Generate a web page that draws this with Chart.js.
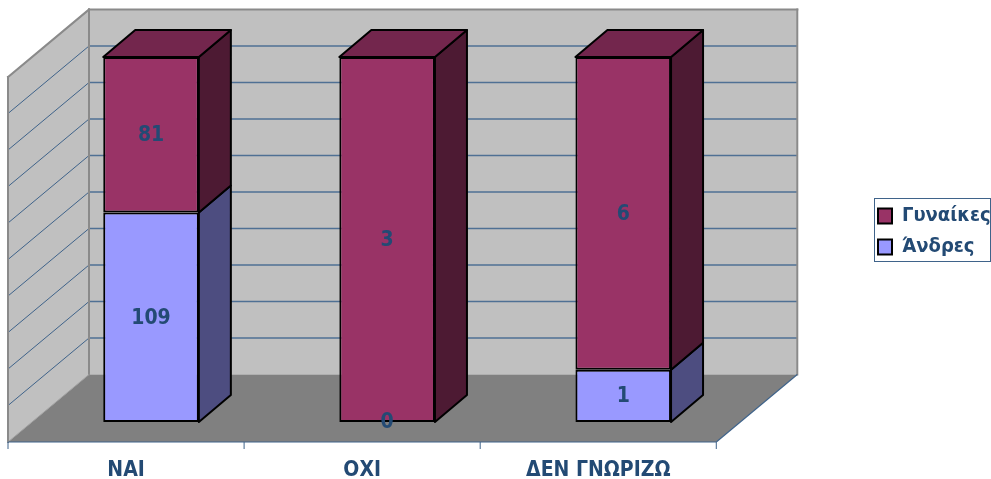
<!DOCTYPE html>
<html>
<head>
<meta charset="utf-8">
<style>
  html, body { margin: 0; padding: 0; background: #fff; }
  #wrap { position: relative; width: 991px; height: 479px; }
</style>
<script src="https://cdn.jsdelivr.net/npm/chart.js@4"></script>
</head>
<body>
<div id="wrap"><canvas id="answersChart" width="991" height="479"></canvas></div>
<script>
const categories = ['ΝΑΙ', 'ΟΧΙ', 'ΔΕΝ ΓΝΩΡΙΖΩ'];
const men = [109, 0, 1];
const women = [81, 3, 6];
const gridTicks = [0, 10, 20, 30, 40, 50, 60, 70, 80, 90, 100];

const counts = [men, women];
const textColor = '#234a74';
const fontFamily = '"DejaVu Sans Condensed", "Noto Sans", Tahoma, sans-serif';

// each stack is shown as a share of its category total
function toPercent(list) {
  return list.map((v, i) => v / (men[i] + women[i]) * 100);
}

// offsets from the plane of the bars to the back wall and the front of the floor
const back = { x: 56, y: -47.5 };
const front = { x: -25, y: 20 };
const barDepth = { x: 32, y: -27 };

function poly(ctx, pts, fill, stroke, width) {
  ctx.beginPath();
  pts.forEach((p, i) => i ? ctx.lineTo(p[0], p[1]) : ctx.moveTo(p[0], p[1]));
  ctx.closePath();
  if (fill) { ctx.fillStyle = fill; ctx.fill(); }
  if (stroke) { ctx.strokeStyle = stroke; ctx.lineWidth = width; ctx.lineJoin = 'round'; ctx.stroke(); }
}

function line(ctx, x1, y1, x2, y2, color, width) {
  ctx.beginPath();
  ctx.moveTo(x1, y1);
  ctx.lineTo(x2, y2);
  ctx.strokeStyle = color;
  ctx.lineWidth = width;
  ctx.stroke();
}

const room3d = {
  id: 'room3d',
  afterLayout(chart) {
    // legend sits on its own, away from the plot
    const l = chart.legend;
    l.left = 867; l.right = 991; l.top = 195; l.bottom = 479;
  },
  beforeDatasetsDraw(chart) {
    const ctx = chart.ctx;
    const a = chart.chartArea;
    const y = chart.scales.y;
    const x = chart.scales.x;
    const bx = a.left + back.x, bxr = a.right + back.x;
    const fx = a.left + front.x, fxr = a.right + front.x;
    const top = a.top, bot = a.bottom;
    ctx.save();

    // back wall, side wall, floor
    poly(ctx, [[bx, top + back.y], [bxr, top + back.y], [bxr, bot + back.y], [bx, bot + back.y]], '#c0c0c0');
    poly(ctx, [[fx, top + front.y], [bx, top + back.y], [bx, bot + back.y], [fx, bot + front.y]], '#c0c0c0');
    poly(ctx, [[fx, bot + front.y], [bx, bot + back.y], [bxr, bot + back.y], [fxr, bot + front.y]], '#808080');

    // gridlines run along the back wall and down the side wall
    gridTicks.slice(1, -1).forEach(v => {
      const py = y.getPixelForValue(v);
      line(ctx, bx, py + back.y, bxr, py + back.y, '#4f7094', 1.5);
      line(ctx, fx, py + front.y, bx, py + back.y, '#3f638a', 1);
    });

    // wall edges
    ctx.lineCap = 'square';
    line(ctx, fx, bot + front.y, fx, top + front.y, '#8a8a8a', 2);
    line(ctx, fx, top + front.y, bx, top + back.y, '#8a8a8a', 2);
    line(ctx, bx, top + back.y, bxr, top + back.y, '#8a8a8a', 2);
    line(ctx, bxr, top + back.y, bxr, bot + back.y, '#8a8a8a', 2);
    line(ctx, bx, top + back.y, bx, bot + back.y, '#8a8a8a', 2);
    line(ctx, fx, bot + front.y, bx, bot + back.y, '#a0a0a0', 1);
    ctx.lineCap = 'butt';

    // category axis along the front of the floor
    const axisCol = '#3f638a';
    line(ctx, fx, bot + front.y, fxr, bot + front.y, axisCol, 1.2);
    line(ctx, fxr, bot + front.y, bxr, bot + back.y, axisCol, 1.2);
    const band = (x.getPixelForValue(1) - x.getPixelForValue(0));
    for (let i = 0; i <= categories.length; i++) {
      const tx = fx + band * i;
      line(ctx, tx, bot + front.y, tx, bot + front.y + 7, axisCol, 1);
    }

    // top and right faces of each bar
    const sideColors = [['#4d4d80', null], ['#4d1a33', '#73264d']];
    chart.data.datasets.forEach((ds, d) => {
      chart.getDatasetMeta(d).data.forEach((bar, i) => {
        if (!counts[d][i]) return;
        const r = bar.x + bar.width / 2, l = bar.x - bar.width / 2;
        const t = bar.y, b = bar.base;
        const dx = barDepth.x, dy = barDepth.y;
        poly(ctx, [[r, t], [r + dx, t + dy], [r + dx, b + dy], [r, b]], sideColors[d][0], '#000', 2);
        if (d === 1) poly(ctx, [[l, t], [l + dx, t + dy], [r + dx, t + dy], [r, t]], sideColors[d][1], '#000', 2);
      });
    });
    ctx.restore();
  },
  afterDatasetsDraw(chart) {
    const ctx = chart.ctx;
    ctx.save();
    ctx.fillStyle = textColor;
    ctx.font = 'bold 21px ' + fontFamily;
    ctx.textAlign = 'center';
    ctx.textBaseline = 'middle';
    chart.data.datasets.forEach((ds, d) => {
      chart.getDatasetMeta(d).data.forEach((bar, i) => {
        ctx.fillText(counts[d][i], bar.x, (bar.y + bar.base) / 2 + 1);
      });
    });
    ctx.restore();
  },
  afterDraw(chart) {
    // frame around the legend
    const ctx = chart.ctx;
    ctx.save();
    ctx.strokeStyle = '#3f638a';
    ctx.lineWidth = 1;
    ctx.strokeRect(874.5, 198.5, 116, 63);
    ctx.restore();
  }
};

new Chart(document.getElementById('answersChart').getContext('2d'), {
  type: 'bar',
  data: {
    labels: categories,
    datasets: [
      { label: 'Άνδρες', data: toPercent(men), backgroundColor: '#9999ff' },
      { label: 'Γυναίκες', data: toPercent(women), backgroundColor: '#993366' }
    ]
  },
  options: {
    responsive: false,
    animation: false,
    maintainAspectRatio: false,
    datasets: {
      bar: {
        borderColor: '#000',
        borderWidth: 2,
        borderSkipped: false,
        categoryPercentage: 1,
        barPercentage: 0.405
      }
    },
    layout: { padding: { left: 33, top: 57, right: 116, bottom: 0 } },
    scales: {
      x: {
        stacked: true,
        grid: { display: false },
        border: { display: false },
        ticks: {
          color: textColor,
          font: { family: fontFamily, size: 21, weight: 'bold' },
          padding: 28,
          labelOffset: -25,
          maxRotation: 0
        },
        afterFit(scale) { scale.height = 57; }
      },
      y: {
        stacked: true,
        display: false,
        min: 0,
        max: 100
      }
    },
    plugins: {
      title: { display: false },
      tooltip: { enabled: false },
      legend: {
        position: 'right',
        align: 'start',
        reverse: true,
        labels: {
          color: textColor,
          font: { family: fontFamily, size: 20, weight: 'bold' },
          boxWidth: 14,
          boxHeight: 15,
          padding: 11
        }
      }
    }
  },
  plugins: [room3d]
});
</script>
</body>
</html>
